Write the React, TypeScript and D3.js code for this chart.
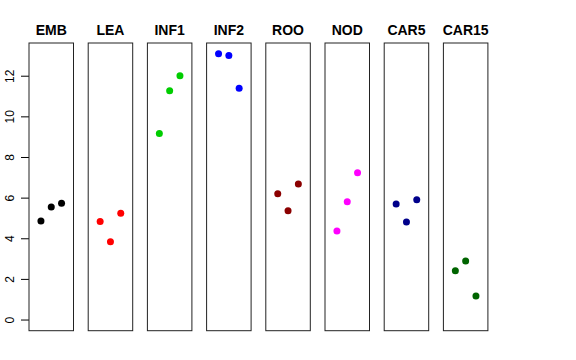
import React, { useEffect, useRef } from 'react';
import * as d3 from 'd3';

const panels = ['EMB', 'LEA', 'INF1', 'INF2', 'ROO', 'NOD', 'CAR5', 'CAR15'];
const colors = ['#000000', '#FF0000', '#00CD00', '#0000FF', '#8B0000', '#FF00FF', '#00008B', '#006400'];
const values = [
  [4.87, 5.56, 5.75],
  [4.85, 3.85, 5.26],
  [9.18, 11.28, 12.02],
  [13.11, 13.02, 11.41],
  [6.21, 5.38, 6.70],
  [4.38, 5.82, 7.25],
  [5.71, 4.82, 5.92],
  [2.43, 2.90, 1.18],
];
const yTicks = [0, 2, 4, 6, 8, 10, 12];

const App: React.FC = () => {
  const svgRef = useRef<SVGSVGElement | null>(null);

  useEffect(() => {
    if (!svgRef.current) return;
    const svg = d3.select(svgRef.current);
    svg.selectAll('*').remove();

    const top = 43;
    const bottom = 330.7;
    const panelW = 44.5;
    const firstX = 29;
    const step = 59.2;

    const ymax = 13.11;
    const yScale = d3.scaleLinear()
      .domain([0 - 0.04 * ymax, ymax + 0.04 * ymax])
      .range([bottom, top]);
    const xScale = d3.scaleLinear()
      .domain([-0.16, 4.16])
      .range([0, panelW]);

    // y axis on first panel
    const axis = svg.append('g').attr('transform', `translate(${firstX},0)`);
    axis.selectAll('line')
      .data(yTicks)
      .enter()
      .append('line')
      .attr('x1', -8)
      .attr('x2', 0)
      .attr('y1', d => yScale(d))
      .attr('y2', d => yScale(d))
      .attr('stroke', '#000');
    axis.selectAll('text')
      .data(yTicks)
      .enter()
      .append('text')
      .attr('transform', d => `translate(-15.5,${yScale(d)}) rotate(-90)`)
      .attr('text-anchor', 'middle')
      .attr('font-family', 'Liberation Sans, Arial, sans-serif')
      .attr('font-size', 12)
      .text(d => d);

    panels.forEach((name, i) => {
      const g = svg.append('g').attr('transform', `translate(${firstX + i * step},0)`);
      g.append('rect')
        .attr('x', 0)
        .attr('y', top)
        .attr('width', panelW)
        .attr('height', bottom - top)
        .attr('fill', 'none')
        .attr('stroke', '#222')
        .attr('stroke-width', 1);
      g.append('text')
        .attr('x', panelW / 2)
        .attr('y', 35)
        .attr('text-anchor', 'middle')
        .attr('font-family', 'Liberation Sans, Arial, sans-serif')
        .attr('font-weight', 'bold')
        .attr('font-size', 14)
        .text(name);
      g.selectAll('circle')
        .data(values[i])
        .enter()
        .append('circle')
        .attr('cx', (_d, j) => xScale(j + 1))
        .attr('cy', d => yScale(d))
        .attr('r', 3.5)
        .attr('fill', colors[i]);
    });
  }, []);

  return (
    <svg
      ref={svgRef}
      width={576}
      height={360}
      style={{ position: 'absolute', left: 0, top: 0, background: '#fff' }}
    />
  );
};

export default App;
